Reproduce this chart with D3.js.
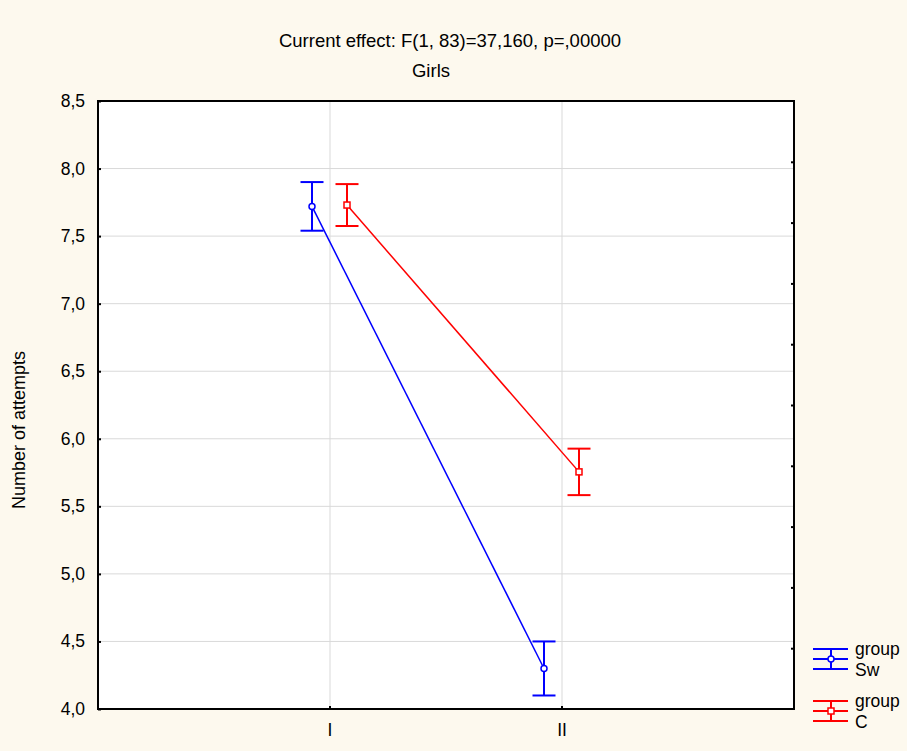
<!DOCTYPE html>
<html>
<head>
<meta charset="utf-8">
<script src="https://cdn.jsdelivr.net/npm/d3@7"></script>
<style>
  html, body { margin: 0; padding: 0; background: #fdf9ee; }
  svg { display: block; }
  text { font-family: "Liberation Sans", Arial, sans-serif; fill: #000; }
</style>
</head>
<body>
<svg id="chart" width="907" height="751"></svg>
<script>
// Time points on the x axis
const categories = ["I", "II"];
// Group means and error half-widths at each time point
const groupNames = ["Sw", "C"];
const swMeans = [7.72, 4.30];
const swErr = [0.18, 0.20];
const cMeans = [7.73, 5.755];
const cErr = [0.155, 0.172];
// Y axis tick values
const yTicks = [4.0, 4.5, 5.0, 5.5, 6.0, 6.5, 7.0, 7.5, 8.0, 8.5];

const titleText = "Current effect: F(1, 83)=37,160, p=,00000";
const subtitleText = "Girls";
const yLabel = "Number of attempts";

const svg = d3.select("#chart");
const m = { left: 98, right: 794, top: 101, bottom: 709 };

const x = d3.scaleLinear().domain([0, categories.length + 1]).range([m.left, m.right]);
const y = d3.scaleLinear().domain([4.0, 8.5]).range([m.bottom, m.top]);

const series = [
  { name: groupNames[0], means: swMeans, err: swErr, color: "#0000ff", dx: -18, shape: "circle" },
  { name: groupNames[1], means: cMeans, err: cErr, color: "#ff0000", dx: 17, shape: "square" }
];

// plot area
svg.append("rect")
  .attr("x", m.left).attr("y", m.top)
  .attr("width", m.right - m.left).attr("height", m.bottom - m.top)
  .attr("fill", "#ffffff");

// grid lines
svg.append("g").selectAll("line").data(yTicks.slice(1, -1)).join("line")
  .attr("x1", m.left).attr("x2", m.right)
  .attr("y1", d => y(d)).attr("y2", d => y(d))
  .attr("stroke", "#d9d9d9").attr("stroke-width", 1);
svg.append("g").selectAll("line").data(categories).join("line")
  .attr("x1", (d, i) => x(i + 1)).attr("x2", (d, i) => x(i + 1))
  .attr("y1", m.top).attr("y2", m.bottom)
  .attr("stroke", "#d9d9d9").attr("stroke-width", 1);

// frame
svg.append("rect")
  .attr("x", m.left).attr("y", m.top)
  .attr("width", m.right - m.left).attr("height", m.bottom - m.top)
  .attr("fill", "none").attr("stroke", "#000").attr("stroke-width", 2);

// left axis: inward ticks and labels
const yAxis = svg.append("g").attr("transform", `translate(${m.left},0)`)
  .call(d3.axisRight(y).tickValues(yTicks).tickSize(3).tickFormat(""));
yAxis.select(".domain").remove();
yAxis.selectAll("line").attr("stroke", "#000").attr("stroke-width", 2);
svg.append("g").selectAll("text").data(yTicks).join("text")
  .attr("x", m.left - 13).attr("y", d => y(d) + 6)
  .attr("text-anchor", "end").attr("font-size", 17.5)
  .text(d => d3.format(".1f")(d).replace(".", ","));

// right axis: evenly spaced inward ticks
const rightTicks = d3.range(1, 10).map(i => 4.0 + i * 0.45);
const rAxis = svg.append("g").attr("transform", `translate(${m.right},0)`)
  .call(d3.axisLeft(y).tickValues(rightTicks).tickSize(3).tickFormat(""));
rAxis.select(".domain").remove();
rAxis.selectAll("line").attr("stroke", "#000").attr("stroke-width", 2);

// bottom axis: category ticks and labels
svg.append("g").selectAll("line").data(categories).join("line")
  .attr("x1", (d, i) => x(i + 1)).attr("x2", (d, i) => x(i + 1))
  .attr("y1", m.bottom).attr("y2", m.bottom - 3)
  .attr("stroke", "#000").attr("stroke-width", 2);
svg.append("g").selectAll("text").data(categories).join("text")
  .attr("x", (d, i) => x(i + 1)).attr("y", 736)
  .attr("text-anchor", "middle").attr("font-size", 17.5)
  .text(d => d);

// titles
svg.append("text").attr("x", 450).attr("y", 47)
  .attr("text-anchor", "middle").attr("font-size", 18.5).text(titleText);
svg.append("text").attr("x", 431).attr("y", 77)
  .attr("text-anchor", "middle").attr("font-size", 18.5).text(subtitleText);
svg.append("text")
  .attr("transform", "translate(25,430) rotate(-90)")
  .attr("text-anchor", "middle").attr("font-size", 18).text(yLabel);

function marker(g, shape, cx, cy, color) {
  if (shape === "circle") {
    g.append("circle").attr("cx", cx).attr("cy", cy).attr("r", 3)
      .attr("fill", "#fff").attr("stroke", color).attr("stroke-width", 1.5);
  } else {
    g.append("rect").attr("x", cx - 3).attr("y", cy - 3).attr("width", 6).attr("height", 6)
      .attr("fill", "#fff").attr("stroke", color).attr("stroke-width", 1.5);
  }
}

// series: lines, error bars, markers
series.forEach(s => {
  const g = svg.append("g");
  const pts = s.means.map((v, i) => [x(i + 1) + s.dx, y(v)]);
  g.append("path").attr("d", d3.line()(pts))
    .attr("fill", "none").attr("stroke", s.color).attr("stroke-width", 1.5);
  s.means.forEach((v, i) => {
    const cx = x(i + 1) + s.dx;
    const top = y(v + s.err[i]), bot = y(v - s.err[i]);
    g.append("line").attr("x1", cx).attr("x2", cx).attr("y1", top).attr("y2", bot)
      .attr("stroke", s.color).attr("stroke-width", 2);
    [top, bot].forEach(yy => g.append("line")
      .attr("x1", cx - 11.5).attr("x2", cx + 11.5).attr("y1", yy).attr("y2", yy)
      .attr("stroke", s.color).attr("stroke-width", 2));
    marker(g, s.shape, cx, y(v), s.color);
  });
});

// legend
series.forEach((s, k) => {
  const g = svg.append("g").attr("transform", `translate(831,${659 + k * 52})`);
  [-10, 0, 10].forEach(dy => g.append("line")
    .attr("x1", -18).attr("x2", 17).attr("y1", dy).attr("y2", dy)
    .attr("stroke", s.color).attr("stroke-width", 2));
  g.append("line").attr("x1", 0).attr("x2", 0).attr("y1", -10).attr("y2", 10)
    .attr("stroke", s.color).attr("stroke-width", 2);
  marker(g, s.shape, 0, 0, s.color);
  g.append("text").attr("x", 24).attr("y", -4).attr("font-size", 17.5).text("group");
  g.append("text").attr("x", 24).attr("y", 17).attr("font-size", 17.5).text(s.name);
});
</script>
</body>
</html>
